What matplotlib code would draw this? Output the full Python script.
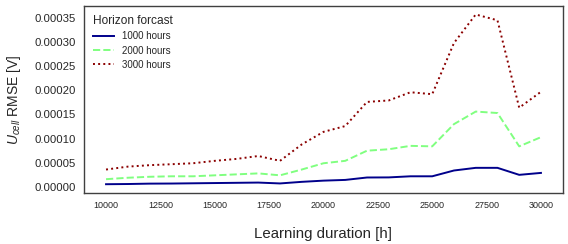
import matplotlib
matplotlib.use("Agg")
import matplotlib.pyplot as plt

plt.rcParams['font.family'] = ['Liberation Sans', 'DejaVu Sans']
plt.rcParams['mathtext.fontset'] = 'custom'
plt.rcParams['mathtext.rm'] = 'Liberation Sans'
plt.rcParams['mathtext.it'] = 'Liberation Sans:italic'

durations = [10000, 11000, 12000, 13000, 14000, 15000, 16000, 17000, 18000, 19000, 20000,
             21000, 22000, 23000, 24000, 25000, 26000, 27000, 28000, 29000, 30000]
rmse_1000 = [5.6e-6, 6.0e-6, 6.8e-6, 7.0e-6, 7.5e-6, 8.0e-6, 8.5e-6, 9.0e-6, 7.2e-6, 1.05e-5, 1.3e-5,
             1.45e-5, 1.95e-5, 1.97e-5, 2.2e-5, 2.2e-5, 3.4e-5, 3.95e-5, 3.95e-5, 2.5e-5, 2.9e-5]
rmse_2000 = [1.6e-5, 1.9e-5, 2.1e-5, 2.2e-5, 2.2e-5, 2.4e-5, 2.6e-5, 2.8e-5, 2.4e-5, 3.6e-5, 4.9e-5,
             5.4e-5, 7.5e-5, 7.8e-5, 8.5e-5, 8.4e-5, 1.30e-4, 1.56e-4, 1.53e-4, 8.4e-5, 1.03e-4]
rmse_3000 = [3.6e-5, 4.2e-5, 4.5e-5, 4.7e-5, 4.9e-5, 5.4e-5, 5.8e-5, 6.4e-5, 5.4e-5, 8.8e-5, 1.14e-4,
             1.26e-4, 1.76e-4, 1.79e-4, 1.96e-4, 1.92e-4, 2.98e-4, 3.57e-4, 3.45e-4, 1.64e-4, 1.97e-4]
series_labels = ["1000 hours", "2000 hours", "3000 hours"]
yticks = [0, 5e-5, 1e-4, 1.5e-4, 2e-4, 2.5e-4, 3e-4, 3.5e-4]

fig = plt.figure(figsize=(5.68, 2.44), dpi=100)
ax = fig.add_axes([84.3/568, 1 - 192.7/244, (562.7-84.3)/568, (192.7-6)/244])

ax.plot(durations, rmse_1000, color='#00008B', lw=1.4, ls='-', label=series_labels[0])
ax.plot(durations, rmse_2000, color='#80FF80', lw=1.4, ls=(0, (3.7, 1.6)), label=series_labels[1])
ax.plot(durations, rmse_3000, color='#8B0000', lw=1.4, ls=(0, (1, 1.65)), label=series_labels[2])

ax.set_yticks(yticks)
ax.set_yticklabels([f"{v:.5f}" for v in yticks])
ax.tick_params(axis='y', length=0, pad=6, labelsize=8.2, labelcolor='#262626')
ax.tick_params(axis='x', length=0, pad=6, labelsize=6.5, labelcolor='#262626')

for s in ax.spines.values():
    s.set_color('#404040')
    s.set_linewidth(1.0)

ax.set_xlabel("Learning duration [h]", fontsize=10.8, color='#262626', labelpad=12)
ax.set_ylabel(r"$U_{cell}$ RMSE [V]", fontsize=10, color='#262626', labelpad=8)

leg = ax.legend(title="Horizon forcast", loc='upper left', frameon=False,
                fontsize=7, title_fontsize=8.6, alignment='left',
                handlelength=2.2, labelspacing=0.45, borderaxespad=0.5)
leg.get_title().set_color('#262626')
for t in leg.get_texts():
    t.set_color('#262626')

fig.savefig("out.png", dpi=100)
